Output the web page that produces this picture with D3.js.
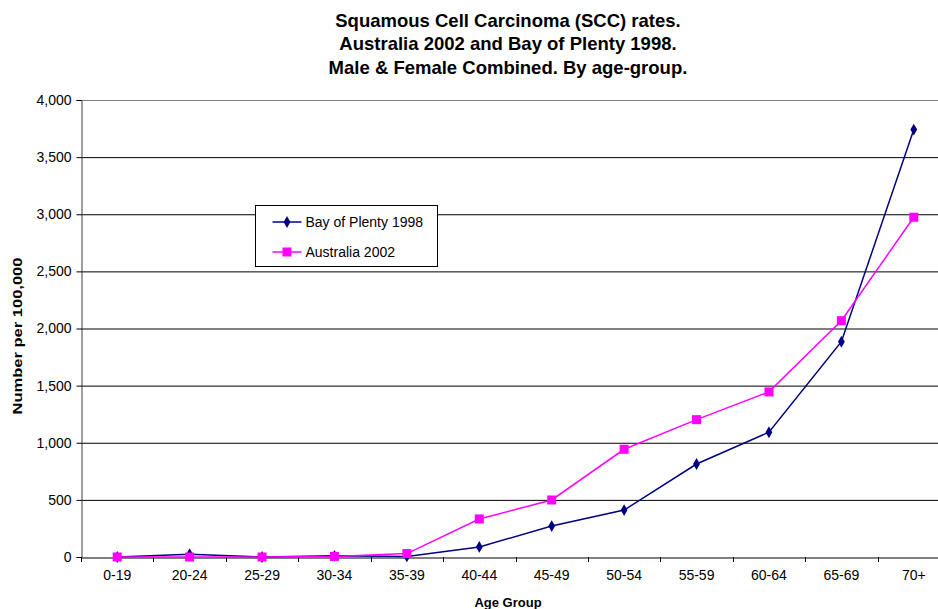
<!DOCTYPE html>
<html>
<head>
<meta charset="utf-8">
<script src="https://cdn.jsdelivr.net/npm/d3@7"></script>
<style>
  body { margin: 0; background: #fff; }
  text { font-family: "Liberation Sans", Arial, sans-serif; }
</style>
</head>
<body>
<div id="chart"></div>
<script>
// chart data
const ageGroups = ["0-19", "20-24", "25-29", "30-34", "35-39", "40-44", "45-49", "50-54", "55-59", "60-64", "65-69", "70+"];
const bayOfPlenty = [0, 25, 0, 10, 5, 88, 271, 411, 814, 1092, 1884, 3741];
const australia = [0, 0, 0, 5, 30, 333, 499, 943, 1202, 1445, 2068, 2974];
const yTicks = [0, 500, 1000, 1500, 2000, 2500, 3000, 3500, 4000];

const width = 938, height = 609;
const margin = { top: 100, right: -12, bottom: 52, left: 81 };

const svg = d3.select("#chart").append("svg")
    .attr("width", width)
    .attr("height", height);

const x = d3.scaleBand()
    .domain(ageGroups)
    .range([margin.left, width - margin.right]);

const y = d3.scaleLinear()
    .domain([0, 4000])
    .range([height - margin.bottom, margin.top]);

// gridlines
svg.append("g")
   .selectAll("line")
   .data(yTicks.slice(1))
   .enter().append("line")
   .attr("x1", margin.left)
   .attr("x2", width)
   .attr("y1", d => y(d) + 0.5)
   .attr("y2", d => y(d) + 0.5)
   .attr("stroke", d => d === 4000 ? "#808080" : "#000")
   .attr("stroke-width", 1);

// y axis
const yAxis = svg.append("g")
   .attr("transform", `translate(${margin.left + 0.5},0)`)
   .call(d3.axisLeft(y).tickValues(yTicks).tickSize(5).tickFormat(d3.format(",")));
yAxis.select(".domain").attr("stroke", "#404040");
yAxis.selectAll("text").attr("font-size", 14).attr("fill", "#000").attr("dx", -2);

// x axis
const xAxis = svg.append("g")
   .attr("transform", `translate(0,${y(0) + 0.5})`)
   .call(d3.axisBottom(x).tickSize(0).tickPadding(13));
xAxis.select(".domain").attr("stroke", "#000");
xAxis.selectAll("text").attr("font-size", 14).attr("fill", "#000");

// tick marks between categories
svg.append("g")
   .selectAll("line")
   .data(ageGroups)
   .enter().append("line")
   .attr("x1", d => Math.round(x(d)) + 0.5)
   .attr("x2", d => Math.round(x(d)) + 0.5)
   .attr("y1", y(0))
   .attr("y2", y(0) + 5)
   .attr("stroke", "#000");

const cx = d => x(d) + x.bandwidth() / 2;
const line = d3.line()
    .x((d, i) => cx(ageGroups[i]))
    .y(d => y(d));

// Bay of Plenty series
svg.append("path")
   .datum(bayOfPlenty)
   .attr("d", line)
   .attr("fill", "none")
   .attr("stroke", "#000080")
   .attr("stroke-width", 1.5);

// Australia series
svg.append("path")
   .datum(australia)
   .attr("d", line)
   .attr("fill", "none")
   .attr("stroke", "#FF00FF")
   .attr("stroke-width", 1.5);

const diamond = d3.symbol().type(d3.symbolDiamond).size(40);

svg.append("g")
   .selectAll("path")
   .data(bayOfPlenty)
   .enter().append("path")
   .attr("d", diamond)
   .attr("transform", (d, i) => `translate(${cx(ageGroups[i])},${y(d)})`)
   .attr("fill", "#000080");

svg.append("g")
   .selectAll("rect")
   .data(australia)
   .enter().append("rect")
   .attr("x", (d, i) => cx(ageGroups[i]) - 4.5)
   .attr("y", d => y(d) - 4.5)
   .attr("width", 9)
   .attr("height", 9)
   .attr("fill", "#FF00FF");

// legend
const legend = svg.append("g").attr("transform", "translate(255.5,205.5)");
legend.append("rect")
   .attr("width", 182)
   .attr("height", 61)
   .attr("fill", "#fff")
   .attr("stroke", "#000");

const legendItems = [
  { name: "Bay of Plenty 1998", color: "#000080", shape: "diamond" },
  { name: "Australia 2002", color: "#FF00FF", shape: "square" }
];
legendItems.forEach(function(item, i) {
    const g = legend.append("g").attr("transform", `translate(0,${16.5 + i * 30})`);
    g.append("line")
     .attr("x1", 17).attr("x2", 46)
     .attr("stroke", item.color).attr("stroke-width", 1.5);
    if (item.shape === "diamond") {
        g.append("path").attr("d", diamond).attr("transform", "translate(31.5,0)").attr("fill", item.color);
    } else {
        g.append("rect").attr("x", 27).attr("y", -4.5).attr("width", 9).attr("height", 9).attr("fill", item.color);
    }
    g.append("text")
     .attr("x", 50)
     .attr("y", 5)
     .attr("font-size", 14)
     .text(item.name);
});

// titles
const titleLines = ["Squamous Cell Carcinoma (SCC) rates.", "Australia 2002 and Bay of Plenty 1998.", "Male & Female Combined. By age-group."];
svg.append("g")
   .selectAll("text")
   .data(titleLines)
   .enter().append("text")
   .attr("x", 508)
   .attr("y", (d, i) => 27 + i * 23.3)
   .attr("text-anchor", "middle")
   .attr("font-size", 18.5)
   .attr("font-weight", "bold")
   .text(d => d);

svg.append("text")
   .attr("transform", "translate(22,336) rotate(-90)")
   .attr("text-anchor", "middle")
   .attr("font-size", 13)
   .attr("font-weight", "bold")
   .attr("textLength", 157)
   .attr("lengthAdjust", "spacingAndGlyphs")
   .text("Number per 100,000");

svg.append("text")
   .attr("x", 508)
   .attr("y", 607)
   .attr("text-anchor", "middle")
   .attr("font-size", 13)
   .attr("font-weight", "bold")
   .text("Age Group");
</script>
</body>
</html>
